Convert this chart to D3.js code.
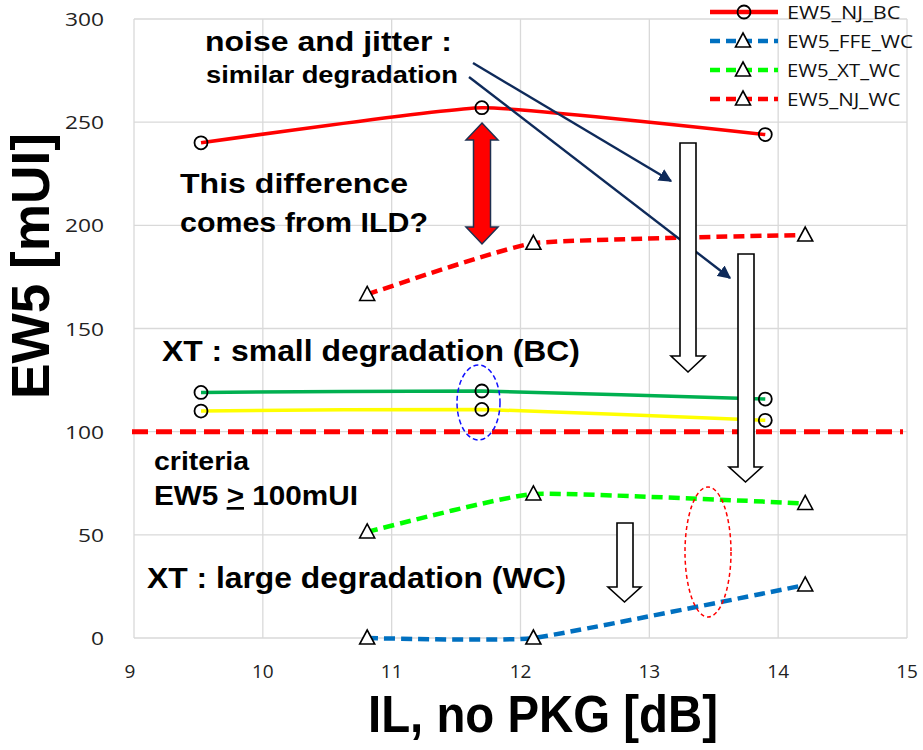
<!DOCTYPE html>
<html><head><meta charset="utf-8">
<script src="https://cdn.jsdelivr.net/npm/d3@7"></script>
<style>body{margin:0;background:#fff}svg{display:block}</style>
</head><body>
<svg id="c" width="923" height="750"></svg>
<script>
// ---- data ----
const xTicks = [9,10,11,12,13,14,15];
const yTicks = [0,50,100,150,200,250,300];
const bcX = [9.52, 11.7, 13.9];
const njBC = [240, 257, 244];
const xtBC = [119, 119.7, 115.8];
const xtBC2 = [110, 110.8, 105.5];
const wcX = [10.81, 12.1, 14.21];
const njWC = [166.5, 191.3, 195.3];
const xtWC = [51.4, 69.8, 65.2];
const ffeWC = [0, 0, 25.7];
const criteria = 100;
const legendNames = ["EW5_NJ_BC","EW5_FFE_WC","EW5_XT_WC","EW5_NJ_WC"];

const svg = d3.select("#c");
const x = d3.scaleLinear().domain([9,15]).range([134,907]);
const y = d3.scaleLinear().domain([0,300]).range([638,19]);
const FONT = "'Liberation Sans', Arial, sans-serif";
const TICKF = "'Open Sans', 'Noto Sans', sans-serif";

// grid
const g = svg.append("g");
g.selectAll(".vx").data(xTicks).join("line")
  .attr("x1",d=>x(d)).attr("x2",d=>x(d)).attr("y1",y(300)).attr("y2",y(0))
  .attr("stroke","#d9d9d9").attr("stroke-width",1.3);
g.selectAll(".hy").data(yTicks).join("line")
  .attr("x1",x(9)).attr("x2",x(15)).attr("y1",d=>y(d)).attr("y2",d=>y(d))
  .attr("stroke","#d9d9d9").attr("stroke-width",1.3);

// tick labels
svg.append("g").selectAll("text").data(yTicks).join("text")
  .attr("x",104).attr("y",d=>y(d)+7).attr("text-anchor","end")
  .attr("font-family",TICKF).attr("font-size",19).attr("fill","#222")
  .attr("textLength",d=>String(d).length*13).attr("lengthAdjust","spacingAndGlyphs")
  .text(d=>d);
svg.append("g").selectAll("text").data(xTicks).join("text")
  .attr("x",d=>x(d)-(d===9?4:0)).attr("y",678).attr("text-anchor","middle")
  .attr("font-family",TICKF).attr("font-size",19).attr("fill","#222")
  .text(d=>d);

// axis titles
svg.append("text").attr("transform","translate(49,266) rotate(-90)")
  .attr("text-anchor","middle").attr("font-family",FONT).attr("font-weight","bold")
  .attr("font-size",54).attr("textLength",266).attr("lengthAdjust","spacingAndGlyphs")
  .text("EW5 [mUI]");
svg.append("text").attr("x",543).attr("y",732)
  .attr("text-anchor","middle").attr("font-family",FONT).attr("font-weight","bold")
  .attr("font-size",52).attr("textLength",350).attr("lengthAdjust","spacingAndGlyphs")
  .text("IL, no PKG [dB]");

// criteria line
svg.append("line").attr("x1",x(9)-2).attr("x2",x(15)-4).attr("y1",y(criteria)).attr("y2",y(criteria))
  .attr("stroke","#ff0000").attr("stroke-width",5).attr("stroke-dasharray","16,8");

const line = d3.line().curve(d3.curveCardinal.tension(0.6)).x(d=>x(d[0])).y(d=>y(d[1]));
const series = [
  {xs:bcX, ys:njBC, color:"#ff0000", dash:null, w:3.5, mk:"c"},
  {xs:bcX, ys:xtBC, color:"#00b050", dash:null, w:3.5, mk:"c"},
  {xs:bcX, ys:xtBC2, color:"#ffff00", dash:null, w:3.5, mk:"c"},
  {xs:wcX, ys:njWC, color:"#ff0000", dash:"11,6", w:4.5, mk:"t"},
  {xs:wcX, ys:xtWC, color:"#00ff00", dash:"11,6", w:4.5, mk:"t"},
  {xs:wcX, ys:ffeWC, color:"#0070c0", dash:"11,6", w:4.5, mk:"t"},
];
const tri = "M0,-8L7.5,6L-7.5,6Z";
series.forEach(s=>{
  const pts = s.xs.map((v,i)=>[v,s.ys[i]]);
  svg.append("path").attr("d",line(pts)).attr("fill","none").attr("stroke",s.color)
    .attr("stroke-width",s.w).attr("stroke-dasharray",s.dash);
});
series.forEach(s=>{
  const pts = s.xs.map((v,i)=>[v,s.ys[i]]);
  if(s.mk==="c"){
    svg.append("g").selectAll("circle").data(pts).join("circle")
      .attr("cx",d=>x(d[0])).attr("cy",d=>y(d[1])).attr("r",6.5)
      .attr("fill","none").attr("stroke","#000").attr("stroke-width",1.8);
  } else {
    svg.append("g").selectAll("path").data(pts).join("path")
      .attr("transform",d=>`translate(${x(d[0])},${y(d[1])})`).attr("d",tri)
      .attr("fill","#fff").attr("stroke","#000").attr("stroke-width",1.6);
  }
});

// legend
const leg = [
  {color:"#ff0000",dash:null,mk:"c"},
  {color:"#0070c0",dash:"10,6",mk:"t"},
  {color:"#00ff00",dash:"10,6",mk:"t"},
  {color:"#ff0000",dash:"10,6",mk:"t"},
];
leg.forEach((l,i)=>{
  const ly = 12 + i*29;
  svg.append("line").attr("x1",710).attr("x2",778).attr("y1",ly).attr("y2",ly)
    .attr("stroke",l.color).attr("stroke-width",4.5).attr("stroke-dasharray",l.dash);
  if(l.mk==="c") svg.append("circle").attr("cx",744).attr("cy",ly).attr("r",6.5).attr("fill","none").attr("stroke","#000").attr("stroke-width",1.8);
  else svg.append("path").attr("transform",`translate(743,${ly})`).attr("d",tri).attr("fill","#fff").attr("stroke","#000").attr("stroke-width",1.6);
  svg.append("text").attr("x",787).attr("y",ly+7).attr("font-family",TICKF).attr("font-size",19)
    .attr("fill","#111").attr("textLength",legendNames[i].length*12.6).attr("lengthAdjust","spacingAndGlyphs")
    .text(legendNames[i]);
});

// annotation texts
const notes = [
  {t:"noise and jitter :", x:205, y:51, s:27, w:247},
  {t:"similar degradation", x:206, y:83, s:23, w:252},
  {t:"This difference", x:180, y:193, s:27, w:228},
  {t:"comes from ILD?", x:180, y:232, s:27, w:248},
  {t:"XT : small degradation (BC)", x:162, y:361, s:29, w:418},
  {t:"criteria", x:154, y:470, s:25, w:95},
  {t:"XT : large degradation (WC)", x:147, y:588, s:29, w:419},
];
notes.forEach(n=>{
  svg.append("text").attr("x",n.x).attr("y",n.y).attr("font-family",FONT).attr("font-weight","bold")
    .attr("font-size",n.s).attr("textLength",n.w).attr("lengthAdjust","spacingAndGlyphs").text(n.t);
});
const crit = svg.append("text").attr("x",154).attr("y",505).attr("font-family",FONT).attr("font-weight","bold")
  .attr("font-size",27).attr("textLength",204).attr("lengthAdjust","spacingAndGlyphs");
crit.append("tspan").text("EW5 ");
crit.append("tspan").attr("text-decoration","underline").text(">");
crit.append("tspan").text(" 100mUI");

// red double arrow
(function(){
  const cx=482, t=123, b=244, hw=16, sw=8.5, hl=17;
  const d = `M${cx},${t} L${cx+hw},${t+hl} L${cx+sw},${t+hl} L${cx+sw},${b-hl} L${cx+hw},${b-hl} L${cx},${b} L${cx-hw},${b-hl} L${cx-sw},${b-hl} L${cx-sw},${t+hl} L${cx-hw},${t+hl}Z`;
  svg.append("path").attr("d",d).attr("fill","#ff0000").attr("stroke","#1f3050").attr("stroke-width",1.5);
})();

// navy arrows
svg.append("defs").append("marker").attr("id","ah").attr("viewBox","0 0 10 10")
  .attr("refX",9).attr("refY",5).attr("markerWidth",5.5).attr("markerHeight",5.5)
  .attr("markerUnits","strokeWidth").attr("orient","auto")
  .append("path").attr("d","M0,0L10,5L0,10Z").attr("fill","#0e2a5a");
[[473,63,671,181],[469,77,730,278]].forEach(a=>{
  svg.append("line").attr("x1",a[0]).attr("y1",a[1]).attr("x2",a[2]).attr("y2",a[3])
    .attr("stroke","#0e2a5a").attr("stroke-width",2.4).attr("marker-end","url(#ah)");
});

// hollow down arrows
function hollow(l,r,top,hb,hl,hr,tip){
  const cx=(hl+hr)/2;
  const d=`M${l},${top}L${r},${top}L${r},${hb}L${hr},${hb}L${cx},${tip}L${hl},${hb}L${l},${hb}Z`;
  svg.append("path").attr("d",d).attr("fill","#fff").attr("stroke","#000").attr("stroke-width",1.6);
}
hollow(680,696,143,356,671,705,372);
hollow(738,754,254,467,729,762,482);
hollow(617,633,523,587,608,641,602);

// ellipses
svg.append("ellipse").attr("cx",478.5).attr("cy",402.5).attr("rx",21.5).attr("ry",37.5)
  .attr("fill","none").attr("stroke","#1010ff").attr("stroke-width",1.5).attr("stroke-dasharray","5,3");
svg.append("ellipse").attr("cx",708).attr("cy",552).attr("rx",23).attr("ry",65)
  .attr("fill","none").attr("stroke","#ff0000").attr("stroke-width",1.5).attr("stroke-dasharray","4,3");
</script>
</body></html>
